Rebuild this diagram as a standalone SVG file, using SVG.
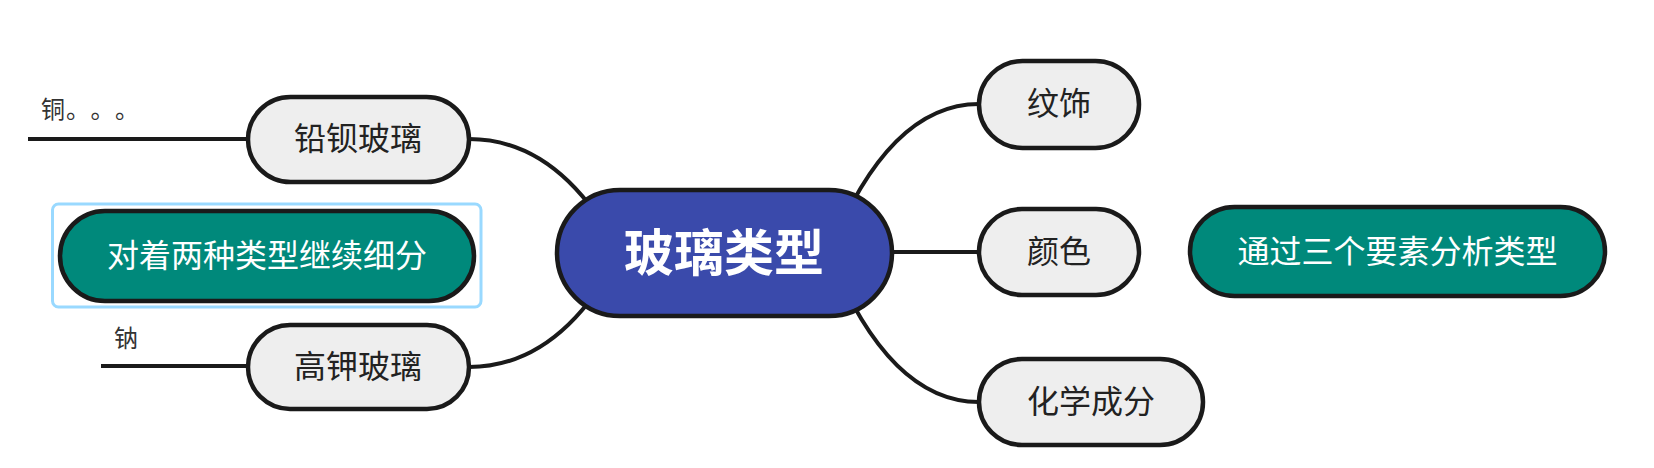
<svg xmlns="http://www.w3.org/2000/svg" width="1654" height="468" viewBox="0 0 1654 468">
<style>
.node{stroke:#1a1a1a;stroke-width:4.5}
.gray{fill:#eeeeee}
.teal{fill:#00897b}
.center{fill:#3a4aab}
.conn{fill:none;stroke:#1a1a1a;stroke-width:4}
text{font-family:"Noto Sans CJK SC","Noto Sans",sans-serif;dominant-baseline:central;text-spacing-trim:space-all}
.t{font-size:32px;fill:#222;text-anchor:middle}
.w{font-size:32px;fill:#ffffff;text-anchor:middle}
.c{font-size:50px;font-weight:bold;fill:#ffffff;text-anchor:middle}
.s{font-size:24px;fill:#333}
</style>
<rect x="0" y="0" width="1654" height="468" fill="#ffffff"/>
<g id="connectors">
<path class="conn" d="M620,253 Q560,139 469,139"/>
<path class="conn" d="M620,253 Q560,367 469,367"/>
<path class="conn" d="M829,253 Q889,104 979,104"/>
<path class="conn" d="M892,252 L979,252"/>
<path class="conn" d="M829,253 Q889,402 979,402"/>
<line class="conn" x1="28" y1="139" x2="248" y2="139"/>
<line class="conn" x1="101" y1="366" x2="248" y2="366"/>
</g>
<g id="n-center">
<rect class="node center" x="557" y="190" width="335" height="126" rx="63"/>
<text class="c" x="724" y="249">玻璃类型</text>
</g>
<g id="n-qianbei">
<rect class="node gray" x="248" y="97" width="221" height="85" rx="42.5"/>
<text class="t" x="358" y="136">铅钡玻璃</text>
</g>
<g id="n-tong">
<text class="s" x="41" y="107">铜<tspan x="66">。</tspan><tspan x="90.5">。</tspan><tspan x="115">。</tspan></text>
</g>
<g id="n-gaojia">
<rect class="node gray" x="248" y="325" width="221" height="84" rx="42"/>
<text class="t" x="358" y="364">高钾玻璃</text>
</g>
<g id="n-na">
<text class="s" x="114" y="336">钠</text>
</g>
<g id="n-left-note">
<rect x="52.5" y="204" width="428.5" height="103" rx="6" fill="none" stroke="#99d9ff" stroke-width="3"/>
<rect class="node teal" x="60" y="211" width="414" height="90" rx="45"/>
<text class="w" x="267" y="253">对着两种类型继续细分</text>
</g>
<g id="n-wenshi">
<rect class="node gray" x="979" y="61" width="160" height="87" rx="43.5"/>
<text class="t" x="1059" y="101">纹饰</text>
</g>
<g id="n-yanse">
<rect class="node gray" x="979" y="209" width="160" height="86" rx="43"/>
<text class="t" x="1059" y="249">颜色</text>
</g>
<g id="n-huaxue">
<rect class="node gray" x="979" y="359" width="224" height="86" rx="43"/>
<text class="t" x="1091" y="399">化学成分</text>
</g>
<g id="n-right-note">
<rect class="node teal" x="1190" y="207" width="415" height="89" rx="44.5"/>
<text class="w" x="1397.5" y="248.5">通过三个要素分析类型</text>
</g>
</svg>
